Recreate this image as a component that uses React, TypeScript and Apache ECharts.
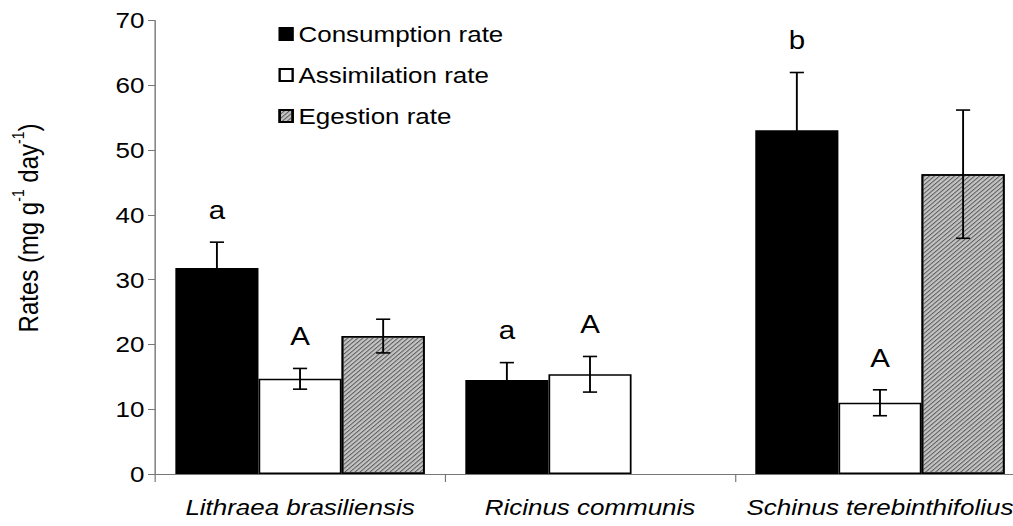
import React, { useEffect, useRef } from "react";
import * as echarts from "echarts";

const categories = ["Lithraea brasiliensis", "Ricinus communis", "Schinus terebinthifolius"];
const seriesNames = ["Consumption rate", "Assimilation rate", "Egestion rate"];
const consumption = [31.8, 14.5, 53.1];
const consumptionErr = [4.0, 2.7, 8.9];
const assimilation = [14.7, 15.4, 11.0];
const assimilationErr = [1.6, 2.75, 2.0];
const egestion: (number | null)[] = [21.3, null, 46.3];
const egestionErr: (number | null)[] = [2.6, null, 9.9];
const consumptionLetters = ["a", "a", "b"];
const assimilationLetters = ["A", "A", "A"];
const egestionLetters = ["", "", ""];
const yMin = 0;
const yMax = 70;
const yInterval = 10;

const STRETCH = 1.18;
const CHART_W = 890;
const CHART_H = 526;
const GAP = 0.14;
const FONT = "'Liberation Sans', Arial, sans-serif";

export default function App() {
  const ref = useRef<HTMLDivElement>(null);
  useEffect(() => {
    if (!ref.current) return;
    const chart = echarts.init(ref.current, undefined, { renderer: "svg" });

    const makeErr = (
      name: string,
      vals: (number | null)[],
      errs: (number | null)[],
      letters: string[],
      k: number
    ) => ({
      type: "custom",
      name,
      z: 5,
      silent: true,
      data: vals.map((v, i) => (v == null ? [i, "-", "-"] : [i, v, errs[i]])),
      renderItem: (params: any, api: any) => {
        const ci = api.value(0);
        const v = api.value(1);
        const e = api.value(2);
        if (isNaN(v)) return null;
        const band = api.size([1, 0])[0];
        const bw = (band * (1 - GAP)) / 3;
        const cx = api.coord([ci, 0])[0] + k * bw;
        const yTop = api.coord([ci, v + e])[1];
        const yBot = api.coord([ci, v - e])[1];
        const cap = 6;
        const ls = { stroke: "#000", lineWidth: 1.6 };
        const children: any[] = [
          { type: "line", shape: { x1: cx, y1: yTop, x2: cx, y2: yBot }, style: ls },
          { type: "line", shape: { x1: cx - cap, y1: yTop, x2: cx + cap, y2: yTop }, style: ls },
          { type: "line", shape: { x1: cx - cap, y1: yBot, x2: cx + cap, y2: yBot }, style: ls },
        ];
        const letter = letters[params.dataIndex];
        if (letter) {
          children.push({
            type: "text",
            x: cx,
            y: yTop - 32,
            style: {
              text: letter,
              fontSize: 25,
              fontFamily: FONT,
              fill: "#000",
              align: "center",
              verticalAlign: "middle",
            },
          });
        }
        return { type: "group", children };
      },
    });

    const barBase = {
      type: "bar",
      barGap: "0%",
      barCategoryGap: GAP * 100 + "%",
    };

    const decal = {
      symbol: "rect",
      symbolSize: 1,
      color: "#5a5a5a",
      dashArrayX: [1, 0],
      dashArrayY: [1, 1.6],
      rotation: -Math.PI / 4,
    };

    chart.setOption({
      animation: false,
      grid: { left: 131.4, right: 21.4, top: 20.7, bottom: 52 },
      legend: {
        data: seriesNames,
        orient: "vertical",
        icon: "rect",
        left: 231,
        top: 16,
        itemWidth: 11,
        itemHeight: 12,
        itemGap: 15,
        textStyle: { fontSize: 22, fontFamily: FONT, color: "#000", lineHeight: 26 },
      },
      xAxis: {
        type: "category",
        data: categories,
        axisLine: { lineStyle: { color: "#777", width: 1.2 } },
        axisTick: { show: true, length: 8, lineStyle: { color: "#777" } },
        axisLabel: {
          interval: 0,
          fontSize: 22,
          fontStyle: "italic",
          fontFamily: FONT,
          color: "#000",
          margin: 22,
        },
      },
      yAxis: {
        type: "value",
        min: yMin,
        max: yMax,
        interval: yInterval,
        splitLine: { show: false },
        axisLine: { show: true, lineStyle: { color: "#777", width: 1.2 } },
        axisTick: { show: true, length: 6, lineStyle: { color: "#777" } },
        axisLabel: { fontSize: 22, fontFamily: FONT, color: "#000", margin: 9 },
      },
      graphic: [
        {
          type: "text",
          x: 22,
          y: 228,
          rotation: Math.PI / 2,
          style: {
            text: "{n|Rates (mg g}{s|-1}{n| day}{s|-1}{n|)}",
            align: "center",
            verticalAlign: "middle",
            fill: "#000",
            rich: {
              n: { fontSize: 24, fontFamily: FONT, fill: "#000", lineHeight: 28, verticalAlign: "bottom" },
              s: { fontSize: 14, fontFamily: FONT, fill: "#000", lineHeight: 28, verticalAlign: "top" },
            },
          },
        },
      ],
      series: [
        {
          ...barBase,
          name: seriesNames[0],
          data: consumption,
          itemStyle: { color: "#000", borderColor: "#000", borderWidth: 1.5 },
        },
        {
          ...barBase,
          name: seriesNames[1],
          data: assimilation,
          itemStyle: { color: "#fff", borderColor: "#000", borderWidth: 1.5 },
        },
        {
          ...barBase,
          name: seriesNames[2],
          data: egestion.map((v) => (v == null ? "-" : v)),
          itemStyle: {
            color: "#c4c4c4",
            borderColor: "#000",
            borderWidth: 1.5,
            decal,
          },
        },
        makeErr("errC", consumption, consumptionErr, consumptionLetters, -1),
        makeErr("errA", assimilation, assimilationErr, assimilationLetters, 0),
        makeErr("errE", egestion, egestionErr, egestionLetters, 1),
      ],
    });
    return () => chart.dispose();
  }, []);

  return (
    <div
      style={{
        position: "fixed",
        left: 0,
        top: 0,
        width: 1013,
        height: 526,
        overflow: "hidden",
        background: "#fff",
      }}
    >
      <div
        ref={ref}
        style={{
          width: CHART_W,
          height: CHART_H,
          transform: `scale(${STRETCH}, 1)`,
          transformOrigin: "0 0",
        }}
      />
    </div>
  );
}
